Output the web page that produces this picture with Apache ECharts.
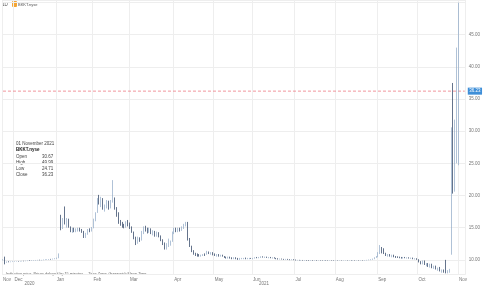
<!DOCTYPE html>
<html><head><meta charset="utf-8">
<script src="https://cdn.jsdelivr.net/npm/echarts@6/dist/echarts.min.js"></script>
<style>html,body{margin:0;padding:0;background:#fff}#c{width:483px;height:286px}</style>
</head><body><div id="c"></div>
<script>
// rows: [day, open, high, low, close]
const nov20 = [[20,10.0,10.1,9.9,10.0],[23,10.3,10.5,9.3,9.6],[24,9.6,9.75,9.55,9.7],[25,9.7,9.78,9.62,9.68],[27,9.68,9.75,9.63,9.72],[30,9.72,9.78,9.66,9.74]];
const dec20 = [[1,9.75,9.8,9.7,9.76],[2,9.76,9.8,9.72,9.78],[3,9.78,9.82,9.73,9.77],[4,9.77,9.83,9.74,9.8],[7,9.8,9.85,9.76,9.82],[8,9.82,9.86,9.77,9.8],[9,9.8,9.87,9.78,9.85],[10,9.85,9.9,9.8,9.88],[11,9.88,9.92,9.82,9.86],[14,9.86,9.93,9.83,9.9],[15,9.9,9.95,9.86,9.93],[16,9.93,9.98,9.88,9.95],[17,9.95,10.0,9.9,9.97],[18,9.97,10.02,9.92,9.96],[21,9.96,10.0,9.9,9.98],[22,9.98,10.05,9.94,10.02],[23,10.02,10.08,9.97,10.05],[24,10.05,10.1,10.0,10.06],[28,10.06,10.12,10.0,10.1],[29,10.1,10.15,10.03,10.08],[30,10.08,10.2,10.05,10.15],[31,10.15,10.25,10.1,10.2]];
const jan21 = [[4,10.2,10.35,10.15,10.3],[5,10.3,11.0,10.25,10.9],[6,16.8,17.0,14.6,15.0],[7,15.0,16.5,14.8,16.2],[8,16.2,18.3,15.5,15.8],[11,15.8,16.5,15.0,16.2],[12,16.2,16.4,15.0,15.2],[13,15.1,15.2,14.3,14.5],[14,14.5,15.0,14.2,14.8],[15,14.8,15.0,14.3,14.4],[19,14.4,14.9,14.3,14.7],[20,14.7,15.0,14.4,14.9],[21,14.9,15.0,14.4,14.6],[22,14.6,14.8,14.2,14.4],[25,14.4,14.5,13.4,13.6],[26,13.6,14.2,13.4,14.0],[27,14.0,14.8,13.9,14.6],[28,14.6,14.9,14.3,14.5],[29,14.5,15.1,14.4,14.9]];
const feb21 = [[1,15.0,16.4,14.9,16.2],[2,16.2,17.4,16.0,17.2],[3,17.4,19.6,17.3,19.3],[4,19.3,20.1,18.6,19.0],[5,19.0,19.8,18.2,19.6],[8,19.5,19.6,17.8,18.0],[9,18.0,18.6,17.5,18.4],[10,18.4,19.3,18.0,19.0],[11,19.0,19.2,17.8,18.1],[12,18.2,19.3,18.0,19.1],[16,19.1,22.4,18.9,19.6],[17,19.5,19.7,17.8,18.0],[18,18.0,18.2,16.7,17.0],[19,17.0,17.4,15.6,15.9],[22,15.9,16.2,15.3,15.5],[23,15.5,15.9,15.0,15.4],[24,15.4,15.6,14.9,15.1],[25,15.1,16.0,15.0,15.8],[26,15.8,16.2,15.2,15.5]];
const mar21 = [[1,15.5,15.8,14.8,15.0],[2,15.0,15.2,14.2,14.3],[3,14.3,14.4,13.2,13.4],[4,13.4,13.6,12.3,12.6],[5,12.6,13.6,12.5,13.3],[8,13.3,13.5,12.8,13.0],[9,13.1,14.5,13.0,14.3],[10,14.3,15.2,14.0,14.9],[11,14.9,15.3,14.4,14.6],[12,14.6,15.0,14.1,14.4],[15,14.4,15.0,14.2,14.8],[16,14.8,14.9,14.0,14.2],[17,14.2,14.6,13.8,14.4],[18,14.4,14.5,13.6,13.8],[19,13.8,14.4,13.6,14.2],[22,14.2,14.3,13.5,13.7],[23,13.7,13.8,12.9,13.1],[24,13.1,13.2,12.3,12.5],[25,12.5,12.7,11.6,11.8],[26,11.8,12.6,11.6,12.4],[29,12.4,13.3,12.0,12.6],[30,12.6,13.0,12.2,12.8],[31,12.9,14.4,12.8,14.2]];
const apr21 = [[1,14.2,15.0,14.0,14.8],[5,14.8,15.0,14.3,14.5],[6,14.5,15.0,14.3,14.9],[7,14.9,15.0,14.4,14.6],[8,14.6,15.2,14.5,15.0],[9,15.0,15.6,14.8,15.4],[12,15.4,15.9,15.2,15.7],[13,15.6,15.9,13.0,13.2],[14,13.2,13.4,12.0,12.2],[15,12.1,12.2,11.2,11.4],[16,11.4,11.5,10.8,11.0],[19,11.0,11.1,10.6,10.8],[20,10.8,11.0,10.5,10.7],[21,10.7,10.9,10.5,10.6],[22,10.6,10.8,10.5,10.7],[23,10.7,10.9,10.6,10.8],[26,10.8,11.0,10.6,10.7],[27,10.8,11.4,10.8,11.2],[28,11.2,11.3,10.9,11.0],[29,11.0,11.2,10.8,11.1],[30,11.1,11.2,10.7,10.8]];
const may21 = [[3,10.8,11.0,10.6,10.7],[4,10.7,10.9,10.5,10.8],[5,10.8,10.9,10.5,10.6],[6,10.6,10.8,10.5,10.7],[7,10.7,10.8,10.5,10.6],[10,10.5,10.6,10.3,10.4],[11,10.4,10.5,10.2,10.3],[12,10.3,10.5,10.2,10.4],[13,10.4,10.5,10.2,10.3],[14,10.3,10.4,10.1,10.2],[17,10.2,10.4,10.1,10.3],[18,10.3,10.4,10.1,10.2],[19,10.2,10.3,10.0,10.1],[20,10.1,10.3,10.0,10.2],[21,10.2,10.3,10.1,10.2],[24,10.2,10.3,10.1,10.25],[25,10.25,10.35,10.1,10.2],[26,10.2,10.3,10.1,10.2],[27,10.2,10.3,10.1,10.25],[28,10.25,10.3,10.15,10.2]];
const jun21 = [[1,10.2,10.3,10.1,10.25],[2,10.25,10.4,10.2,10.35],[3,10.35,10.45,10.25,10.3],[4,10.3,10.45,10.25,10.4],[7,10.4,10.55,10.3,10.5],[8,10.5,10.55,10.35,10.4],[9,10.4,10.5,10.3,10.45],[10,10.45,10.5,10.3,10.35],[11,10.35,10.45,10.25,10.4],[14,10.4,10.45,10.25,10.3],[15,10.3,10.4,10.2,10.35],[16,10.35,10.4,10.2,10.25],[17,10.25,10.3,10.1,10.2],[18,10.2,10.25,10.05,10.1],[21,10.1,10.2,10.05,10.15],[22,10.15,10.2,10.05,10.1],[23,10.1,10.15,10.0,10.05],[24,10.05,10.15,10.0,10.1],[25,10.1,10.15,10.0,10.05],[28,10.05,10.1,9.95,10.0],[29,10.0,10.1,9.95,10.05],[30,10.05,10.1,9.95,10.0]];
const jul21 = [[1,10.0,10.05,9.9,9.95],[2,9.95,10.0,9.9,9.97],[6,9.97,10.0,9.9,9.93],[7,9.93,9.98,9.88,9.95],[8,9.95,9.98,9.88,9.9],[9,9.9,9.96,9.86,9.92],[12,9.92,9.97,9.87,9.9],[13,9.9,9.95,9.85,9.88],[14,9.88,9.94,9.84,9.9],[15,9.9,9.94,9.84,9.87],[16,9.87,9.92,9.83,9.89],[19,9.89,9.92,9.82,9.85],[20,9.85,9.9,9.82,9.88],[21,9.88,9.92,9.84,9.87],[22,9.87,9.91,9.83,9.86],[23,9.86,9.9,9.82,9.88],[26,9.88,9.92,9.84,9.86],[27,9.86,9.9,9.82,9.85],[28,9.85,9.9,9.82,9.87],[29,9.87,9.91,9.83,9.86],[30,9.86,9.9,9.82,9.85]];
const aug21 = [[2,9.85,9.9,9.82,9.87],[3,9.87,9.9,9.83,9.86],[4,9.86,9.9,9.83,9.88],[5,9.88,9.91,9.84,9.86],[6,9.86,9.9,9.83,9.87],[9,9.87,9.91,9.84,9.88],[10,9.88,9.92,9.85,9.87],[11,9.87,9.91,9.84,9.89],[12,9.89,9.93,9.85,9.88],[13,9.88,9.92,9.85,9.9],[16,9.9,9.94,9.86,9.89],[17,9.89,9.93,9.86,9.91],[18,9.91,9.95,9.87,9.9],[19,9.9,9.95,9.87,9.92],[20,9.92,9.96,9.88,9.91],[23,9.91,9.97,9.88,9.95],[24,9.95,10.0,9.9,9.97],[25,9.97,10.05,9.93,10.0],[26,10.0,10.1,9.95,10.05],[27,10.05,10.2,10.0,10.15],[30,10.15,10.4,10.1,10.35],[31,10.35,10.6,10.3,10.5]];
const sep21 = [[1,10.5,11.2,10.4,11.0],[2,11.0,12.3,10.9,11.9],[3,11.9,12.0,11.0,11.2],[7,11.2,11.8,10.9,11.0],[8,11.0,11.1,10.6,10.7],[9,10.7,10.9,10.5,10.8],[10,10.8,10.9,10.5,10.6],[13,10.6,10.8,10.4,10.7],[14,10.7,10.8,10.4,10.5],[15,10.5,10.6,10.3,10.45],[16,10.45,10.55,10.3,10.4],[17,10.4,10.5,10.25,10.35],[20,10.35,10.45,10.2,10.3],[21,10.3,10.45,10.2,10.4],[22,10.4,10.45,10.25,10.3],[23,10.3,10.4,10.2,10.35],[24,10.35,10.4,10.2,10.25],[27,10.25,10.35,10.15,10.3],[28,10.3,10.35,10.1,10.15],[29,10.15,10.25,10.05,10.2],[30,10.2,10.25,10.0,10.05]];
const oct21 = [[1,10.05,10.1,9.6,9.7],[4,9.7,9.8,9.3,9.4],[5,9.4,9.9,9.3,9.8],[6,9.8,9.9,9.2,9.3],[7,9.3,9.5,9.0,9.4],[8,9.4,9.5,8.9,9.0],[11,9.0,9.4,8.8,9.3],[12,9.3,9.4,8.7,8.8],[13,8.8,9.1,8.6,9.0],[14,9.0,9.1,8.5,8.6],[15,8.6,8.8,8.3,8.7],[18,8.7,8.9,8.2,8.3],[19,8.3,8.5,8.0,8.4],[20,8.4,8.5,8.0,8.1],[21,8.9,10.0,7.9,8.1],[22,8.1,8.4,7.9,8.2],[25,8.3,8.6,8.0,8.4],[26,10.9,30.6,10.8,28.0],[27,37.0,37.5,20.3,24.0],[28,24.0,31.8,20.6,28.7],[29,28.7,43.0,25.0,30.5]];
const nov21 = [[1,30.67,49.99,24.71,36.23]];
const monthRows = [['2020-11',nov20],['2020-12',dec20],['2021-01',jan21],['2021-02',feb21],['2021-03',mar21],['2021-04',apr21],['2021-05',may21],['2021-06',jun21],['2021-07',jul21],['2021-08',aug21],['2021-09',sep21],['2021-10',oct21],['2021-11',nov21]];
const yTicks = ['10.00','15.00','20.00','25.00','30.00','35.00','40.00','45.00'];
const monthNames = ['Jan','Feb','Mar','Apr','May','Jun','Jul','Aug','Sep','Oct','Nov','Dec'];

const categories = [], ohlc = [];
monthRows.forEach(([ym, rows]) => rows.forEach(r => {
  categories.push(ym + '-' + String(r[0]).padStart(2,'0'));
  ohlc.push([r[1], r[4], r[3], r[2]]);
}));
const lastClose = ohlc[ohlc.length-1][1];
const X_MAX = 240;
function isMonthStart(i){
  if (i >= categories.length) return false;
  if (i === 0) return true;
  return categories[i].slice(0,7) !== categories[i-1].slice(0,7);
}
const FONT = 'Liberation Sans, Arial, sans-serif';
const RED = '#ec7b83';
const chart = echarts.init(document.getElementById('c'), null, {renderer:'canvas'});
const option = {
  animation: false,
  backgroundColor: '#fff',
  grid: {left: 0, right: 14, top: 0, bottom: 12},
  xAxis: {
    type: 'category', data: categories, max: X_MAX, boundaryGap: true,
    axisLine: {show: false}, axisTick: {show: false},
    axisLabel: {
      interval: (i) => isMonthStart(i), fontSize: 4.5, color: '#777', fontFamily: FONT,
      align: 'left', margin: 3,
      formatter: (v) => v ? monthNames[parseInt(v.slice(5,7),10)-1] : ''
    },
    splitLine: {show: true, interval: (i) => isMonthStart(i), lineStyle: {color: '#eeeeee', width: 1}}
  },
  yAxis: {
    type: 'value', position: 'right', min: 7.8, max: 50.4, splitNumber: 8, scale: true,
    axisLine: {show: false}, axisTick: {show: false},
    axisLabel: {fontSize: 4.5, color: '#777', fontFamily: FONT, margin: 3, showMinLabel: false, showMaxLabel: false,
      formatter: (v) => { const s = v.toFixed(2); return yTicks.indexOf(s) >= 0 ? s : ''; }},
    splitLine: {lineStyle: {color: '#eeeeee', width: 1}}
  },
  series: [{
    type: 'line', data: [[0, lastClose], [X_MAX, lastClose]], silent: true, showSymbol: false, symbol: 'none',
    z: 1, lineStyle: {color: RED, type: [3, 2], width: 0.8}, itemStyle: {color: RED},
    endLabel: {show: true, formatter: lastClose.toFixed(2), backgroundColor: '#3f8fd8', color: '#fff',
      fontSize: 4.5, fontFamily: FONT, padding: [1,1.5,1,1.5], distance: 3}
  }, {
    type: 'candlestick', data: ohlc, barMaxWidth: 1.3, z: 2,
    itemStyle: {color: '#a9bfd8', color0: '#1d3150', borderColor: '#8ea8c6', borderColor0: '#22385a', borderWidth: 0.7}
  }],
  graphic: []
};
chart.setOption(option);

// year labels centred in each visible year span
const firstIdx2021 = categories.findIndex(c => c.startsWith('2021'));
const x0 = chart.convertToPixel({xAxisIndex:0}, 0) - 1;
const xEnd2020 = chart.convertToPixel({xAxisIndex:0}, firstIdx2021 - 1);
const xStart2021 = chart.convertToPixel({xAxisIndex:0}, firstIdx2021);
const xEnd = chart.getWidth() - 14;
const g = [];
g.push({type:'text', left: (x0 + xEnd2020)/2 - 4, top: 281, style:{text:'2020', fontSize:4.5, fill:'#777', fontFamily:FONT}});
g.push({type:'text', left: (xStart2021 + xEnd)/2 - 4, top: 281, style:{text:'2021', fontSize:4.5, fill:'#777', fontFamily:FONT}});
// header
g.push({type:'text', left: 2, top: 2, style:{text:'1D', fontSize:4.5, fill:'#555', fontFamily:FONT}});
g.push({type:'rect', left: 12, top: 1, shape:{width:5, height:6, r:1}, style:{fill:'#f4a534'}});
g.push({type:'text', left: 18, top: 2.5, style:{text:'BKKT.nyse', fontSize:4, fill:'#555', fontFamily:FONT}});
// info block
const info = [['Open','30.67'],['High','49.99'],['Low','24.71'],['Close','36.23']];
g.push({type:'text', left: 16, top: 141.5, style:{text:'01 November 2021', fontSize:4.5, fill:'#444', fontFamily:FONT}});
g.push({type:'text', left: 16, top: 147.5, style:{text:'BKKT.nyse', fontSize:4.5, fill:'#222', fontWeight:'bold', fontFamily:FONT}});
info.forEach((p, k) => {
  g.push({type:'text', left: 16, top: 154.5 + k*6, style:{text:p[0], fontSize:4.5, fill:'#444', fontFamily:FONT}});
  g.push({type:'text', left: 42, top: 154.5 + k*6, style:{text:p[1], fontSize:4.5, fill:'#444', fontFamily:FONT}});
});
g.push({type:'text', left: 6, top: 272, style:{text:'Indicative price. Prices delayed by 15 minutes.    Time Zone: Greenwich Mean Time', fontSize:3.8, fill:'#666', fontFamily:FONT}});
chart.setOption({graphic: g});
</script></body></html>
